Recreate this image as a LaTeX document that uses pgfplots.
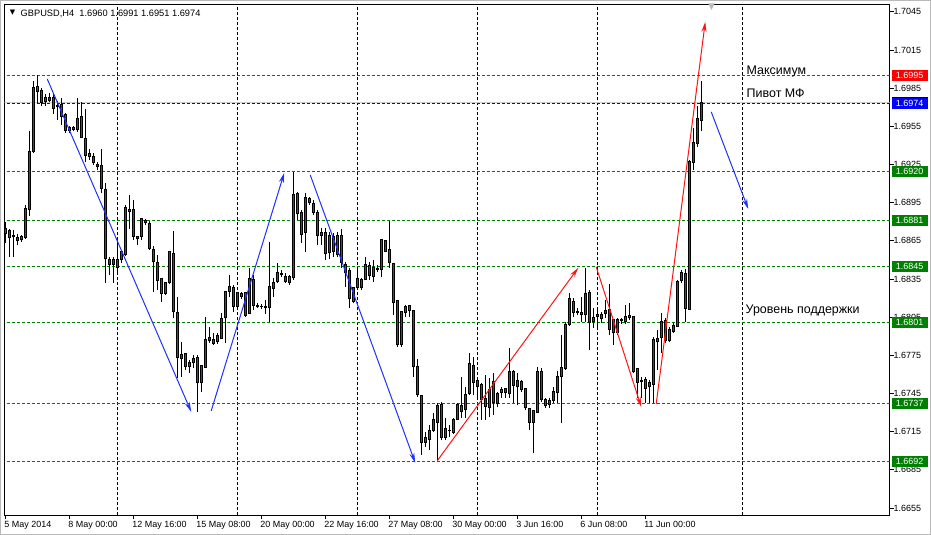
\documentclass[border=0pt]{standalone}
\usepackage{fontspec}
\setmainfont{Liberation Sans}
\newfontfamily\dejavu{DejaVu Sans}
\usepackage{pgfplots}
\usepackage{pgfplotstable}
\pgfplotsset{compat=1.18}
\usetikzlibrary{arrows.meta}
\definecolor{cgreen}{RGB}{0,128,0}
\definecolor{cred}{RGB}{255,0,0}
\definecolor{ablue}{RGB}{30,50,255}
\definecolor{ared}{RGB}{255,20,20}
\definecolor{lblue}{RGB}{0,0,255}
\newcommand\fs{\fontsize{9}{10}\selectfont}

\pgfplotstableread{
i O H L C
4 1.68658 1.68697 1.68642 1.68681
5 1.68673 1.68933 1.68666 1.68901
6 1.68893 1.69514 1.68846 1.69349
7 1.69349 1.69907 1.69341 1.69852
10 1.69742 1.69805 1.69711 1.69774
11 1.69750 1.69813 1.69742 1.69774
17 1.69522 1.69554 1.69514 1.69538
18 1.69522 1.69774 1.69507 1.69609
27 1.68461 1.68524 1.68320 1.68500
28 1.68438 1.68673 1.68398 1.68500
29 1.68500 1.68579 1.68477 1.68563
30 1.68540 1.68933 1.68532 1.68909
31 1.68878 1.69011 1.68744 1.68893
34 1.68681 1.68831 1.68658 1.68823
40 1.68233 1.68328 1.68225 1.68320
41 1.68320 1.68563 1.68312 1.68563
44 1.67722 1.67856 1.67581 1.67754
46 1.67659 1.67714 1.67612 1.67691
47 1.67691 1.67754 1.67652 1.67722
49 1.67534 1.67675 1.67463 1.67667
50 1.67652 1.68052 1.67652 1.67872
51 1.67864 1.67974 1.67848 1.67887
53 1.67856 1.67927 1.67840 1.67903
54 1.67880 1.68084 1.67880 1.68037
55 1.68045 1.68257 1.67848 1.68249
56 1.68249 1.68383 1.68210 1.68288
58 1.68131 1.68249 1.68123 1.68241
59 1.68210 1.68249 1.68194 1.68233
61 1.68076 1.68438 1.68076 1.68351
64 1.68131 1.68155 1.68115 1.68131
66 1.68123 1.68642 1.68013 1.68288
67 1.68273 1.68359 1.68210 1.68320
68 1.68328 1.68477 1.68320 1.68398
69 1.68383 1.68422 1.68367 1.68390
71 1.68320 1.68383 1.68304 1.68367
72 1.68359 1.69192 1.68343 1.69011
75 1.68713 1.69027 1.68563 1.68988
79 1.68689 1.68752 1.68618 1.68713
81 1.68555 1.68721 1.68508 1.68689
83 1.68540 1.68721 1.68524 1.68689
87 1.68170 1.68288 1.68162 1.68280
89 1.68280 1.68359 1.68265 1.68343
90 1.68343 1.68524 1.68343 1.68461
92 1.68367 1.68500 1.68328 1.68438
93 1.68422 1.68461 1.68406 1.68430
94 1.68422 1.68658 1.68367 1.68658
99 1.67832 1.68100 1.67817 1.68092
100 1.68084 1.68147 1.68052 1.68131
105 1.67062 1.67149 1.67031 1.67101
106 1.67086 1.67204 1.67007 1.67156
107 1.67156 1.67298 1.67149 1.67243
108 1.67219 1.67376 1.66920 1.67353
110 1.67101 1.67259 1.67086 1.67172
111 1.67156 1.67204 1.67109 1.67156
112 1.67141 1.67259 1.67133 1.67243
113 1.67243 1.67376 1.67243 1.67361
115 1.67321 1.67502 1.67259 1.67439
116 1.67447 1.67769 1.67439 1.67683
121 1.67337 1.67573 1.67266 1.67479
123 1.67369 1.67463 1.67345 1.67447
124 1.67455 1.67502 1.67416 1.67479
126 1.67447 1.67809 1.67416 1.67620
128 1.67502 1.67612 1.67361 1.67549
132 1.67219 1.67321 1.66983 1.67314
133 1.67298 1.67659 1.67298 1.67620
136 1.67361 1.67416 1.67337 1.67392
137 1.67392 1.67502 1.67376 1.67463
138 1.67455 1.67628 1.67376 1.67581
139 1.67581 1.67911 1.67219 1.67652
140 1.67644 1.68013 1.67636 1.67990
141 1.67990 1.68241 1.67982 1.68194
145 1.68068 1.68438 1.68013 1.68233
148 1.68052 1.68107 1.67966 1.68068
149 1.68037 1.68092 1.68005 1.68068
150 1.68076 1.68186 1.68045 1.68100
153 1.67927 1.68045 1.67911 1.68029
154 1.68021 1.68045 1.67997 1.68029
155 1.68013 1.68147 1.67997 1.68052
156 1.68045 1.68162 1.68029 1.68060
159 1.67542 1.67581 1.67416 1.67549
161 1.67502 1.67557 1.67376 1.67534
162 1.67518 1.67895 1.67376 1.67872
163 1.67856 1.67950 1.67636 1.67880
164 1.67887 1.68084 1.67769 1.68013
166 1.67864 1.67974 1.67856 1.67950
167 1.67935 1.68005 1.67927 1.67982
168 1.67974 1.68343 1.67974 1.68328
169 1.68335 1.68422 1.68320 1.68398
171 1.68107 1.69286 1.68107 1.69271
172 1.69263 1.69538 1.69208 1.69420
173 1.69412 1.69711 1.69389 1.69609
174 1.69600 1.69910 1.69510 1.69740
}\greendata

\pgfplotstableread{
i O H L C
0 1.68744 1.68799 1.68634 1.68705
1 1.68728 1.68744 1.68524 1.68673
2 1.68689 1.68736 1.68524 1.68681
3 1.68673 1.68705 1.68618 1.68650
8 1.69860 1.69950 1.69734 1.69821
9 1.69829 1.69852 1.69711 1.69734
12 1.69774 1.69813 1.69648 1.69687
13 1.69711 1.69750 1.69601 1.69703
14 1.69719 1.69774 1.69562 1.69624
15 1.69640 1.69656 1.69499 1.69514
16 1.69538 1.69554 1.69499 1.69514
19 1.69624 1.69742 1.69459 1.69459
20 1.69452 1.69687 1.69271 1.69318
21 1.69334 1.69373 1.69286 1.69310
22 1.69310 1.69341 1.69247 1.69263
23 1.69247 1.69271 1.69208 1.69231
24 1.69239 1.69373 1.69027 1.69059
25 1.69051 1.69106 1.68320 1.68508
26 1.68500 1.68524 1.68383 1.68461
32 1.68893 1.68972 1.68658 1.68681
33 1.68681 1.68689 1.68618 1.68666
35 1.68807 1.68823 1.68776 1.68791
36 1.68783 1.68807 1.68579 1.68587
37 1.68579 1.68610 1.68249 1.68485
38 1.68477 1.68540 1.68265 1.68335
39 1.68351 1.68359 1.68170 1.68233
42 1.68548 1.68728 1.68045 1.68092
43 1.68084 1.68210 1.67573 1.67730
45 1.67762 1.67769 1.67636 1.67659
48 1.67730 1.67754 1.67306 1.67534
52 1.67872 1.67927 1.67832 1.67840
57 1.68280 1.68304 1.68092 1.68131
60 1.68241 1.68249 1.68052 1.68060
62 1.68343 1.68383 1.68107 1.68139
63 1.68139 1.68162 1.68123 1.68131
65 1.68131 1.68186 1.68076 1.68123
70 1.68367 1.68398 1.68320 1.68328
73 1.69019 1.69035 1.68815 1.68862
74 1.68870 1.68893 1.68634 1.68697
76 1.68980 1.68996 1.68933 1.68948
77 1.68941 1.68972 1.68854 1.68870
78 1.68870 1.68893 1.68618 1.68689
80 1.68713 1.68752 1.68500 1.68548
82 1.68681 1.68713 1.68524 1.68563
84 1.68689 1.68744 1.68438 1.68477
85 1.68461 1.68485 1.68288 1.68398
86 1.68414 1.68438 1.68123 1.68194
88 1.68351 1.68438 1.68265 1.68280
91 1.68453 1.68485 1.68343 1.68375
95 1.68650 1.68658 1.68563 1.68563
96 1.68579 1.68807 1.68438 1.68477
97 1.68469 1.68477 1.68068 1.68162
98 1.68178 1.68186 1.67817 1.67832
101 1.68139 1.68147 1.68052 1.68100
102 1.68100 1.68107 1.67581 1.67659
103 1.67659 1.67722 1.67424 1.67439
104 1.67431 1.67439 1.66968 1.67062
109 1.67361 1.67384 1.67086 1.67101
114 1.67353 1.67581 1.67259 1.67306
117 1.67667 1.67738 1.67439 1.67534
118 1.67549 1.67573 1.67424 1.67502
119 1.67518 1.67534 1.67243 1.67400
120 1.67408 1.67597 1.67243 1.67345
122 1.67542 1.67612 1.67282 1.67376
125 1.67487 1.67494 1.67416 1.67455
127 1.67620 1.67636 1.67376 1.67510
129 1.67542 1.67557 1.67463 1.67479
130 1.67487 1.67494 1.67321 1.67337
131 1.67329 1.67337 1.67164 1.67219
134 1.67620 1.67652 1.67384 1.67400
135 1.67400 1.67416 1.67337 1.67353
142 1.68170 1.68202 1.68052 1.68084
143 1.68092 1.68123 1.68068 1.68084
144 1.68084 1.68210 1.68013 1.68068
146 1.68241 1.68265 1.67793 1.68005
147 1.68045 1.68123 1.67966 1.68013
151 1.68107 1.68312 1.67911 1.67950
152 1.68029 1.68037 1.67832 1.67927
157 1.68052 1.68060 1.67612 1.67620
158 1.67644 1.67652 1.67416 1.67534
160 1.67557 1.67581 1.67376 1.67487
165 1.68021 1.68045 1.67848 1.67864
170 1.68390 1.68430 1.68013 1.68115
}\reddata

\pgfplotstableread{
p col
1.6995 cred
1.6919534 cgreen
1.6881014 cgreen
1.6844853 cgreen
1.6800831 cgreen
1.6737157 cgreen
1.6691563 cgreen
}\levels

\begin{document}
\begin{tikzpicture}
\useasboundingbox (-4.5bp,-19.5bp) rectangle (926.5bp,515.5bp);
\fill[white] (-4.5bp,-19.5bp) rectangle (926.5bp,515.5bp);
\draw[gray!55, line width=1bp] (-4bp,-19bp) rectangle (926bp,515bp);
\coordinate (rx) at (887bp,0);
\begin{axis}[
  at={(0,0)}, anchor=south west,
  scale only axis, width=885bp, height=511bp,
  xmin=-0.25, xmax=221, ymin=1.6649113, ymax=1.7050814,
  axis line style={black, line width=1bp},
  tick style={black, line width=1bp},
  tick align=outside, major tick length=4bp,
  xtick pos=left, ytick pos=right, yticklabel pos=right,
  xtick={0,16,32,48,64,80,96,112,128,144,160},
  xticklabels={5 May 2014,8 May 00:00,12 May 16:00,15 May 08:00,20 May 00:00,22 May 16:00,27 May 08:00,30 May 00:00,3 Jun 16:00,6 Jun 08:00,11 Jun 00:00},
  xticklabel style={anchor=north west, inner sep=0pt, xshift=-1.3bp, yshift=-2bp, font=\fs},
  ytick={1.6655,1.6685,1.6715,1.6745,1.6775,1.6805,1.6835,1.6865,1.6895,1.6925,1.6955,1.6985,1.7015,1.7045},
  yticklabel style={anchor=west, inner sep=0pt, font=\fs},
  yticklabel={\pgfmathprintnumber[fixed,fixed zerofill,precision=4,assume math mode=true]{\tick}},
  scaled y ticks=false,
  error bars/error mark=none,
]
% vertical grid
\foreach \g in {28,58,88,118,148,184.25}{
  \edef\tmp{\noexpand\draw[black, line width=1bp, dash pattern=on 3bp off 2bp] (axis cs:\g,1.6649113) -- (axis cs:\g,1.7050814);}
  \tmp
}
% levels (price lines)
\draw[cred, line width=1.1bp, dash pattern=on 3bp off 2bp] (axis cs:-1,1.6995) -- (axis cs:222,1.6995);
\draw[gray!40, line width=1bp] (axis cs:-1,1.6973776) -- (axis cs:222,1.6973776);
\draw[lblue, line width=1.1bp, dash pattern=on 3bp off 2bp] (axis cs:-1,1.6972989) -- (axis cs:222,1.6972989);
\draw[cgreen, line width=1.1bp, dash pattern=on 3bp off 2bp] (axis cs:-1,1.6919534) -- (axis cs:222,1.6919534);
\draw[cgreen, line width=1.1bp, dash pattern=on 3bp off 2bp] (axis cs:-1,1.6881014) -- (axis cs:222,1.6881014);
\draw[cgreen, line width=1.1bp, dash pattern=on 3bp off 2bp] (axis cs:-1,1.6844853) -- (axis cs:222,1.6844853);
\draw[cgreen, line width=1.1bp, dash pattern=on 3bp off 2bp] (axis cs:-1,1.6800831) -- (axis cs:222,1.6800831);
\draw[cgreen, line width=1.1bp, dash pattern=on 3bp off 2bp] (axis cs:-1,1.6737157) -- (axis cs:222,1.6737157);
\draw[cgreen, line width=1.1bp, dash pattern=on 3bp off 2bp] (axis cs:-1,1.6691563) -- (axis cs:222,1.6691563);
% wicks
\addplot[draw=none, no markers, forget plot, error bars/.cd, y dir=plus, y explicit, error bar style={draw=black, solid, line width=1bp}]
  table[x=i, y=L, y error plus expr=\thisrow{H}-\thisrow{L}] {\greendata};
\addplot[draw=none, no markers, forget plot, error bars/.cd, y dir=plus, y explicit, error bar style={draw=black, solid, line width=1bp}]
  table[x=i, y=L, y error plus expr=\thisrow{H}-\thisrow{L}] {\reddata};
% bodies outline
\addplot[draw=none, no markers, forget plot, error bars/.cd, y dir=plus, y explicit, error bar style={draw=black, solid, line width=3bp}]
  table[x=i, y expr=\thisrow{O}-0.00004, y error plus expr=\thisrow{C}-\thisrow{O}+0.00008] {\greendata};
\addplot[draw=none, no markers, forget plot, error bars/.cd, y dir=plus, y explicit, error bar style={draw=black, solid, line width=3bp}]
  table[x=i, y expr=\thisrow{C}-0.00004, y error plus expr=\thisrow{O}-\thisrow{C}+0.00008] {\reddata};
% bodies fill
\addplot[draw=none, no markers, forget plot, error bars/.cd, y dir=plus, y explicit, error bar style={draw=cgreen, solid, line width=1bp}]
  table[x=i, y expr=\thisrow{O}+0.00004, y error plus expr={max(\thisrow{C}-\thisrow{O}-0.00008,0)}] {\greendata};
\addplot[draw=none, no markers, forget plot, error bars/.cd, y dir=plus, y explicit, error bar style={draw=cred, solid, line width=1bp}]
  table[x=i, y expr=\thisrow{C}+0.00004, y error plus expr={max(\thisrow{O}-\thisrow{C}-0.00008,0)}] {\reddata};
% arrows
\addplot[ablue, line width=1bp, -{Stealth[length=10bp,width=5bp]}] coordinates {(10.43,1.69923) (46.43,1.67306)};
\addplot[ablue, line width=1bp, -{Stealth[length=10bp,width=5bp]}] coordinates {(51.43,1.67314) (69.68,1.69184)};
\addplot[ablue, line width=1bp, -{Stealth[length=10bp,width=5bp]}] coordinates {(76.18,1.69168) (102.43,1.66905)};
\addplot[ablue, line width=1bp, -{Stealth[length=10bp,width=5bp]}] coordinates {(176.43,1.69664) (185.68,1.68901)};
\addplot[ared, line width=1bp, -{Stealth[length=10bp,width=5bp]}] coordinates {(107.93,1.66921) (143.18,1.68438)};
\addplot[ared, line width=1bp, -{Stealth[length=10bp,width=5bp]}] coordinates {(147.68,1.68445) (158.93,1.67345)};
\addplot[ared, line width=1bp, -{Stealth[length=10bp,width=5bp]}] coordinates {(162.68,1.67369) (174.93,1.70371)};
\coordinate (l1) at (axis cs:0,1.6995);
\coordinate (l2) at (axis cs:0,1.6973);
\coordinate (l3) at (axis cs:0,1.6919534);
\coordinate (l4) at (axis cs:0,1.6881014);
\coordinate (l5) at (axis cs:0,1.6844853);
\coordinate (l6) at (axis cs:0,1.6800831);
\coordinate (l7) at (axis cs:0,1.6737157);
\coordinate (l8) at (axis cs:0,1.6691563);
\end{axis}
% level price boxes
\tikzset{lvbox/.style={text=white, inner xsep=0pt, inner ysep=0pt, minimum height=11bp, minimum width=36bp, anchor=west, font=\fs}}
\node[lvbox, fill=cred] at (l1 -| rx) {1.6995};
\node[lvbox, fill=lblue] at (l2 -| rx) {1.6974};
\draw[black, line width=1bp] ([yshift=6bp]l2 -| rx) -- ++(36bp,0);
\node[lvbox, fill=cgreen] at (l3 -| rx) {1.6920};
\node[lvbox, fill=cgreen] at (l4 -| rx) {1.6881};
\node[lvbox, fill=cgreen] at (l5 -| rx) {1.6845};
\node[lvbox, fill=cgreen] at (l6 -| rx) {1.6801};
\node[lvbox, fill=cgreen] at (l7 -| rx) {1.6737};
\node[lvbox, fill=cgreen] at (l8 -| rx) {1.6692};
% header
\node[inner sep=0pt, font=\dejavu\fontsize{7}{7}\selectfont] at (8bp,502.5bp) {▼};
\node[inner sep=0pt, anchor=base west, font=\fontsize{9.3}{10}\selectfont] at (16bp,499bp) {GBPUSD,H4\ \ 1.6960 1.6991 1.6951 1.6974};
\node[inner sep=0pt, anchor=north, text=gray!55, font=\dejavu\fontsize{9}{9}\selectfont] at (707bp,511.5bp) {▼};
% annotations
\node[inner sep=0pt, anchor=base west, font=\fontsize{12.5}{14}\selectfont] at (742bp,441bp) {Максимум};
\node[inner sep=0pt, anchor=base west, font=\fontsize{12.5}{14}\selectfont] at (742bp,418bp) {Пивот МФ};
\node[inner sep=0pt, anchor=base west, font=\fontsize{12.5}{14}\selectfont] at (741bp,202bp) {Уровень поддержки};
\end{tikzpicture}
\end{document}
